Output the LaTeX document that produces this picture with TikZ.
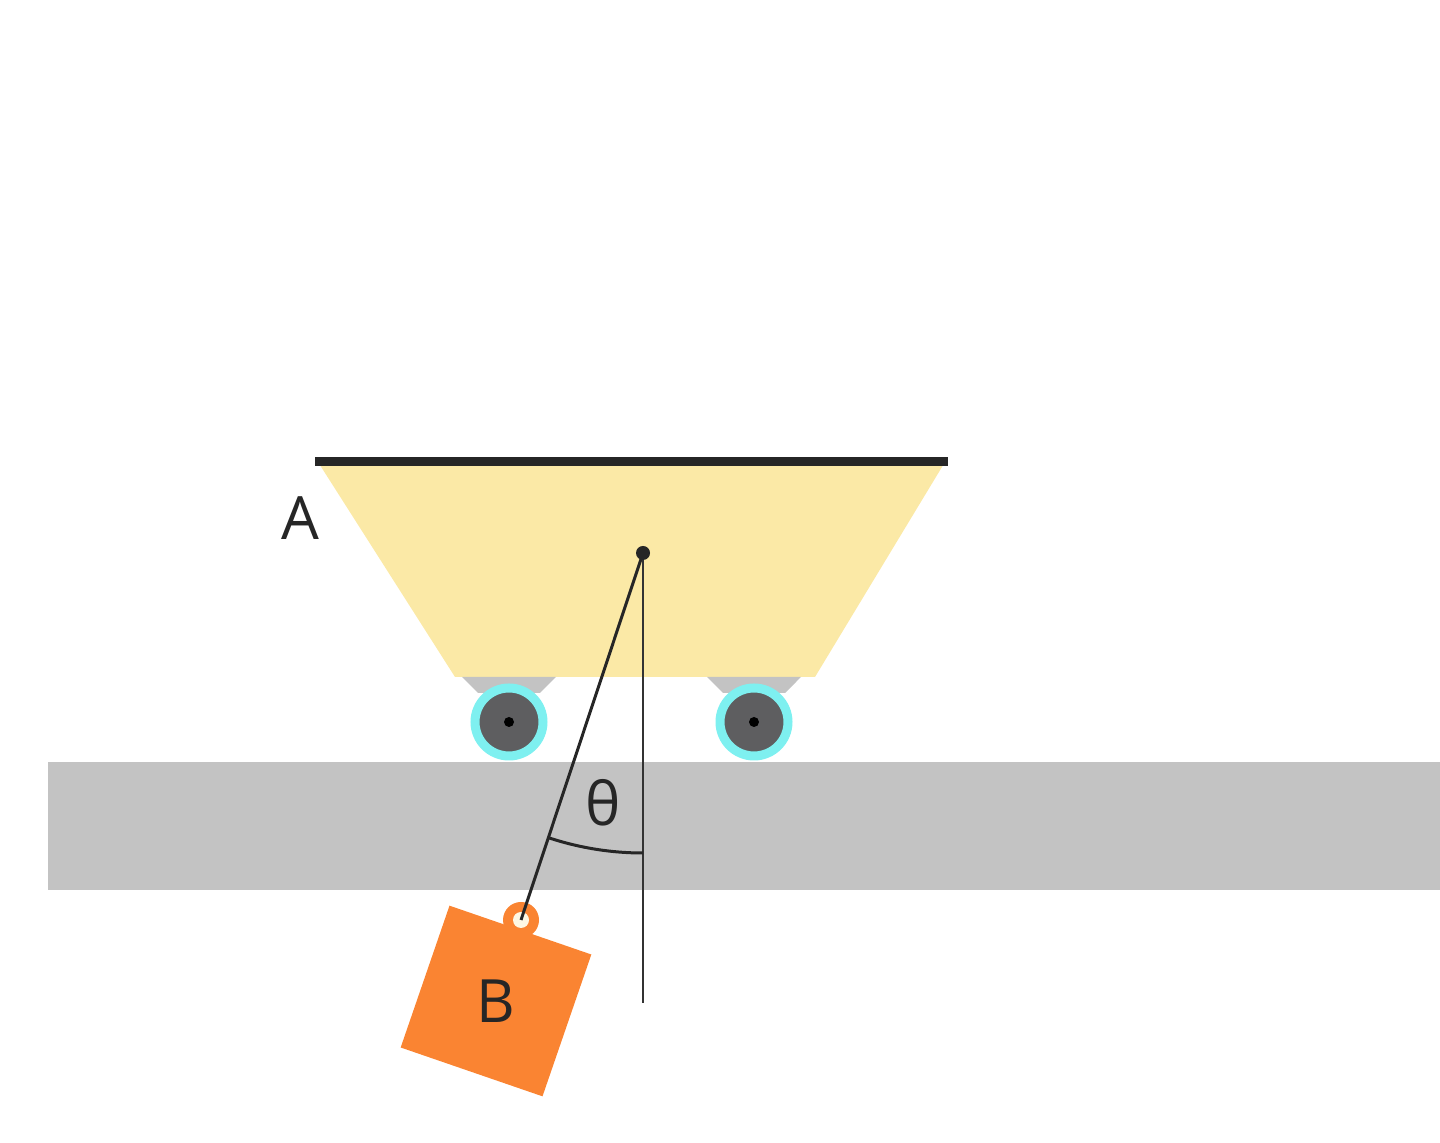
\documentclass[tikz,border=0pt]{standalone}
\usepackage{fontspec}
\setmainfont{Open Sans}
\usetikzlibrary{positioning}
\definecolor{cartfill}{HTML}{FBE9A6}
\definecolor{trackgray}{HTML}{C3C3C3}
\definecolor{wheelring}{HTML}{7EF0F0}
\definecolor{hubgray}{HTML}{5E5E60}
\definecolor{blockorange}{HTML}{FA8432}
\tikzset{wheel/.style={circle,fill=hubgray,draw=wheelring,line width=0.9mm,minimum size=0.68cm,inner sep=0pt},
         lbl/.style={font=\fontsize{17}{20}\selectfont,text=black!85}}
\begin{document}
\begin{tikzpicture}[>=stealth]
        \useasboundingbox (0,0) rectangle (14.4,11.43);
        % track
        \fill[trackgray] (0.48,2.53) rectangle (14.4,3.81);
        % cart body
        \fill[cartfill] (3.18,6.81) -- (9.45,6.81) -- (8.15,4.66) -- (4.55,4.66) -- cycle;
        \draw[line width=0.9mm,black!85] (3.15,6.81) -- (9.48,6.81);
        \fill[trackgray] (4.62,4.66) -- (5.56,4.66) -- (5.40,4.50) -- (4.78,4.50) -- cycle;
        \fill[trackgray] (7.07,4.66) -- (8.01,4.66) -- (7.85,4.50) -- (7.23,4.50) -- cycle;
        \node[wheel] (w1) at (5.09,4.21) {};
        \node[wheel] (w2) at (7.54,4.21) {};
        \fill (w1) circle (0.05);
        \fill (w2) circle (0.05);
        \node[lbl] (a) at (3.00,6.25) {A};
        % pendulum
        \coordinate (p) at (6.43,5.90);
        \coordinate (h) at (5.21,2.23);
        \coordinate (v) at (6.43,1.40);
        \fill[blockorange] (h) circle (0.18);
        \fill[cartfill!30!white] (h) circle (0.08);
        \node[fill=blockorange,minimum size=1.5cm,rotate=-19] (b) at (4.96,1.42) {};
        \node[lbl] at (b) {B};
        \draw[line width=0.3mm,black!85] (p) -- (h);
        \draw[black!80] (p) -- (v);
        \fill[black!85] (p) circle (0.07);
        \draw[line width=0.3mm,black!85] ([shift={(251.5:3.0)}]p) arc (251.5:270:3.0);
        \node[lbl] (t) at (6.03,3.40) {θ};
    \end{tikzpicture}
\end{document}
